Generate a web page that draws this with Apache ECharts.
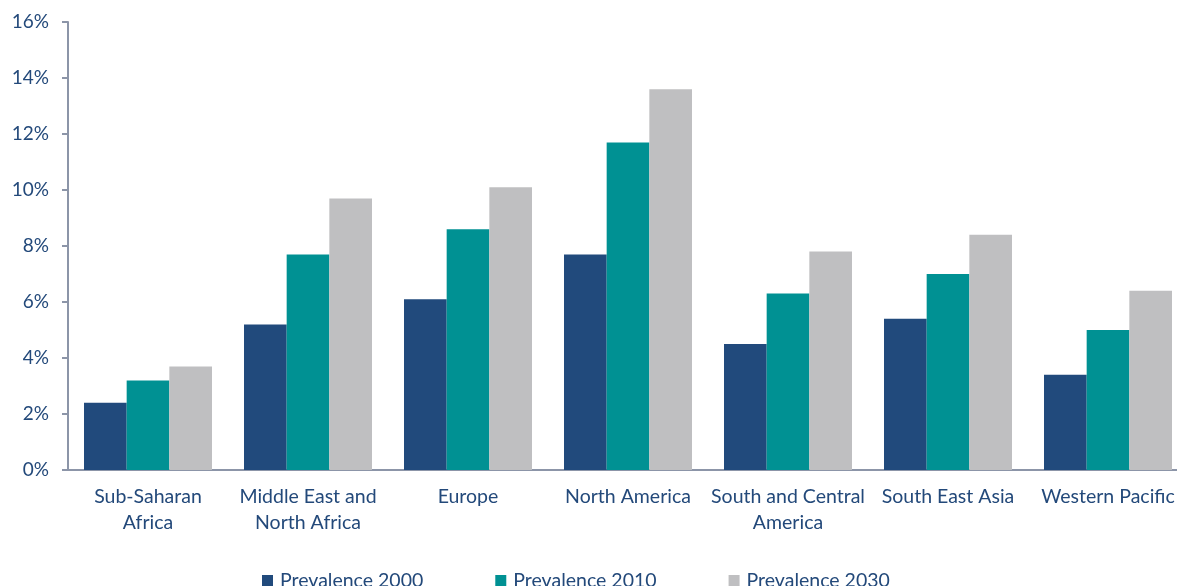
<!DOCTYPE html>
<html><head><meta charset="utf-8">
<script src="https://cdn.jsdelivr.net/npm/echarts@6/dist/echarts.min.js"></script>
<style>html,body{margin:0;padding:0;background:#fff}#c{width:1177px;height:586px}</style>
</head><body><div id="c"></div>
<script>
const categories = ["Sub-Saharan\nAfrica","Middle East and\nNorth Africa","Europe","North America","South and Central\nAmerica","South East Asia","Western Pacific"];
const prevalence2000 = [2.4,5.2,6.1,7.7,4.5,5.4,3.4];
const prevalence2010 = [3.2,7.7,8.6,11.7,6.3,7.0,5.0];
const prevalence2030 = [3.7,9.7,10.1,13.6,7.8,8.4,6.4];
const seriesNames = ["Prevalence 2000","Prevalence 2010","Prevalence 2030"];
const colors = ["#214A7C","#009193","#BFBFC1"];
const textColor = "#23497A";
const axisColor = "#8C95A8";
const font = "Lato, 'Open Sans', sans-serif";
const chart = echarts.init(document.getElementById('c'));
chart.setOption({
  animation:false,
  color:colors,
  textStyle:{fontFamily:font},
  grid:{left:68,top:22,height:448,width:1120,containLabel:false,outerBoundsMode:'none'},
  legend:{
    data:seriesNames, left:257, top:566, itemWidth:11, itemHeight:12, itemGap:72,
    icon:'rect',
    textStyle:{color:textColor,fontSize:19.5,fontFamily:font,padding:[0,0,0,2]}
  },
  xAxis:{
    type:'category', data:categories,
    axisLine:{lineStyle:{color:axisColor,width:2}},
    axisTick:{show:false},
    axisLabel:{color:textColor,fontSize:19.5,lineHeight:26,margin:14,interval:0,fontFamily:font}
  },
  yAxis:{
    type:'value', min:0, max:16, interval:2,
    axisLine:{show:true,lineStyle:{color:axisColor,width:2}},
    axisTick:{show:true,length:6,lineStyle:{color:axisColor,width:2}},
    splitLine:{show:false},
    axisLabel:{color:textColor,fontSize:19,margin:19,formatter:v=>v+'%',fontFamily:font}
  },
  series:[
    {name:seriesNames[0],type:'bar',data:prevalence2000,barGap:'0%',barCategoryGap:'20%'},
    {name:seriesNames[1],type:'bar',data:prevalence2010,barGap:'0%',barCategoryGap:'20%'},
    {name:seriesNames[2],type:'bar',data:prevalence2030,barGap:'0%',barCategoryGap:'20%'}
  ]
});
</script></body></html>
